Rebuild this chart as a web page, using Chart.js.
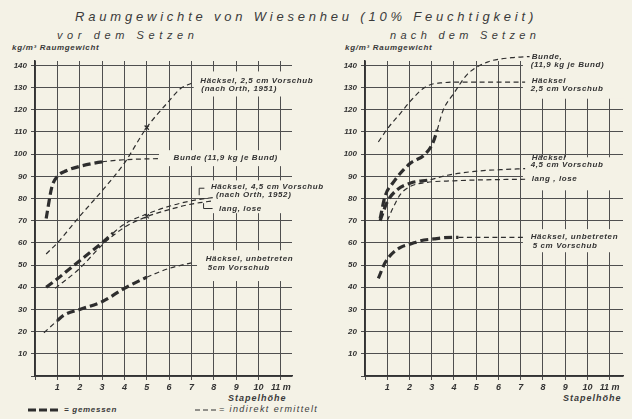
<!DOCTYPE html>
<html>
<head>
<meta charset="utf-8">
<script src="https://cdn.jsdelivr.net/npm/chart.js@4.4.0/dist/chart.umd.min.js"></script>
<style>
html, body { margin: 0; padding: 0; background: #f4f2e6; }
#page { position: relative; width: 632px; height: 419px; overflow: hidden;
        font-family: "Liberation Sans", sans-serif; font-style: italic; color: #3a3a3a; }
#page canvas { position: absolute; top: 0; }
.t { position: absolute; white-space: nowrap; line-height: 1; }
.small { font-size: 8px; font-weight: bold; letter-spacing: 0.7px; }
</style>
</head>
<body>
<div id="page">
  <div class="t" style="left:75px;top:10px;font-size:13px;letter-spacing:3.8px;">Raumgewichte von Wiesenheu (10% Feuchtigkeit)</div>
  <div class="t" style="left:57px;top:30px;font-size:11px;letter-spacing:4.6px;">vor dem Setzen</div>
  <div class="t" style="left:390px;top:30px;font-size:11px;letter-spacing:4.3px;">nach dem Setzen</div>
  <div class="t small" style="left:12px;top:44px;">kg/m³ Raumgewicht</div>
  <div class="t small" style="left:345px;top:44px;">kg/m³ Raumgewicht</div>
  <div class="t small" style="left:228px;top:394px;font-size:9px;letter-spacing:1px;">Stapelhöhe</div>
  <div class="t small" style="left:563px;top:394px;font-size:9px;letter-spacing:1px;">Stapelhöhe</div>
  <svg style="position:absolute;left:0;top:0" width="632" height="419">
    <line x1="28" y1="410" x2="60" y2="410" stroke="#2e2e2e" stroke-width="3" stroke-dasharray="8 3"/>
    <line x1="195" y1="410" x2="216" y2="410" stroke="#2e2e2e" stroke-width="1.2" stroke-dasharray="5 3"/>
  </svg>
  <div class="t small" style="left:64px;top:406px;">= gemessen</div>
  <div class="t small" style="left:219px;top:405px;font-size:9px;letter-spacing:1.4px;font-weight:normal;">= indirekt ermittelt</div>
  <canvas id="vor" width="324" height="419" style="left:0"></canvas>
  <canvas id="nach" width="316" height="419" style="left:316px"></canvas>
</div>
<script>
// vor dem Setzen
const vorHaecksel25X = [0.5, 1, 2, 3, 4, 5, 6, 6.5, 7];
const vorHaecksel25Y = [55, 60, 72, 83.5, 96, 112, 124, 129.5, 132];
const vorBundeX = [0.5, 0.75, 1, 1.4, 2, 3, 4, 5.5];
const vorBundeY = [71, 85, 90, 92.5, 94.5, 96.5, 97.5, 98];
const vorBundeGemessen = [0.5, 3];
const vorHaecksel45X = [0.5, 1, 2, 3, 3.5, 4, 5, 6, 7, 8];
const vorHaecksel45Y = [40, 43.8, 52, 60, 64.5, 68.5, 73, 76.5, 79, 80.5];
const vorHaecksel45Gemessen = [0.5, 3.5];
const vorLangX = [0.9, 2, 3, 4, 5, 6, 7, 8];
const vorLangY = [39.5, 48.5, 59, 67, 71.8, 75, 77.5, 79];
const vorUnbetretenX = [0.4, 1, 1.3, 2, 3, 4, 5, 6, 7];
const vorUnbetretenY = [19.5, 25, 27.5, 30, 33.5, 39.5, 44.5, 48.5, 51];
const vorUnbetretenGemessen = [1, 5];
const vorKreuzX = [5, 5];
const vorKreuzY = [112, 72];

// nach dem Setzen
const nachBundeX = [0.68, 0.9, 1.25, 2.05, 2.65, 3.05, 3.25, 3.5, 4, 4.6, 5.5, 6.6, 7.4];
const nachBundeY = [71, 81, 87, 96, 99.5, 105, 111, 119.5, 127.5, 136, 141.5, 143.5, 144];
const nachBundeGemessen = [0.68, 3.25];
const nachHaecksel25X = [0.6, 1.05, 1.6, 2.05, 2.6, 3, 3.5, 4.1, 7.2];
const nachHaecksel25Y = [105.5, 112, 118.5, 124, 129.5, 131.5, 132.2, 132.5, 132.5];
const nachHaecksel45X = [0.68, 1, 1.45, 2.05, 2.95, 3.7, 5.2, 6.1, 7.2];
const nachHaecksel45Y = [70, 78.5, 84, 87, 88.5, 90.5, 92.5, 93, 93.5];
const nachHaecksel45Gemessen = [0.68, 2.95];
const nachLangX = [1, 1.27, 1.6, 2.05, 2.8, 4, 5.2, 7.2];
const nachLangY = [70, 76, 82, 85.5, 87.3, 88, 88.4, 88.7];
const nachUnbetretenX = [0.6, 0.9, 1.15, 1.6, 2.05, 2.5, 3.1, 3.5, 4.2, 7.2];
const nachUnbetretenY = [44, 51, 54.5, 58, 59.5, 61, 61.8, 62.3, 62.5, 62.5];
const nachUnbetretenGemessen = [0.6, 4.2];

const paper = '#f4f2e6';
const ink = '#2e2e2e';
const grid = '#4f4f4f';

function gemessen(c, range) {
    return range && c.p0.parsed.x >= range[0] - 1e-6 && c.p1.parsed.x <= range[1] + 1e-6;
}

function kurve(xs, ys, range) {
    return {
        data: xs.map((v, i) => ({ x: v, y: ys[i] })),
        borderColor: ink,
        borderWidth: 1.2,
        borderDash: [5, 3.5],
        pointRadius: 0,
        cubicInterpolationMode: 'monotone',
        clip: false,
        segment: {
            borderWidth: c => gemessen(c, range) ? 3.2 : 1.2,
            borderDash: c => gemessen(c, range) ? [8, 4] : [5, 3.5]
        }
    };
}

const textPlugin = {
    id: 'kurvenText',
    beforeDatasetsDraw(chart, args, opts) {
        const sx = chart.scales.x, sy = chart.scales.y, ctx = chart.ctx;
        ctx.save();
        ctx.fillStyle = paper;
        (opts.items || []).forEach(it => {
            if (!it.box) return;
            const x1 = sx.getPixelForValue(it.box[0]);
            const x2 = chart.chartArea.right + 1;
            const y1 = sy.getPixelForValue(it.box[3]);
            const y2 = sy.getPixelForValue(it.box[2]);
            ctx.fillRect(x1, y1, x2 - x1, y2 - y1);
        });
        ctx.restore();
    },
    afterDatasetsDraw(chart, args, opts) {
        const sx = chart.scales.x, sy = chart.scales.y, ctx = chart.ctx;
        ctx.save();
        ctx.fillStyle = '#333';
        ctx.strokeStyle = ink;
        ctx.lineWidth = 1;
        ctx.font = 'italic bold 8px "Liberation Sans"';
        ctx.letterSpacing = '0.6px';
        ctx.textBaseline = 'middle';
        (opts.items || []).forEach(it => {
            const px = sx.getPixelForValue(it.x), py = sy.getPixelForValue(it.y);
            it.lines.forEach((l, i) => ctx.fillText(l[0], px + (l[1] || 0), py + i * (it.lh || 8.5)));
            (it.marks || []).forEach(m => {
                ctx.beginPath();
                m.forEach((p, j) => j ? ctx.lineTo(px + p[0], py + p[1]) : ctx.moveTo(px + p[0], py + p[1]));
                ctx.stroke();
            });
        });
        ctx.restore();
    }
};

function panel(id, datasets, xMax, padRight, yWidth, items) {
    return new Chart(document.getElementById(id), {
        type: 'line',
        data: { datasets: datasets },
        plugins: [textPlugin],
        options: {
            responsive: false,
            animation: false,
            layout: { padding: { left: 0, right: padRight, top: 61, bottom: 0 } },
            plugins: { legend: { display: false }, tooltip: { enabled: false }, kurvenText: { items: items } },
            scales: {
                x: {
                    type: 'linear', min: 0, max: xMax,
                    afterFit: s => { s.height = 43; },
                    grid: { color: grid, lineWidth: 1, tickLength: 4 },
                    border: { color: '#333', width: 1.6 },
                    ticks: {
                        stepSize: 1, includeBounds: false, maxRotation: 0, padding: 2, color: '#333',
                        font: { family: 'Liberation Sans', style: 'italic', weight: 'bold', size: 9 },
                        callback: v => v === 0 ? '' : (v === 11 ? '11 m' : v)
                    }
                },
                y: {
                    min: 0, max: 142,
                    afterFit: s => { s.width = yWidth; },
                    grid: { color: grid, lineWidth: 1, tickLength: 4 },
                    border: { color: '#333', width: 1.6 },
                    ticks: {
                        stepSize: 10, includeBounds: false, padding: 4, color: '#333',
                        font: { family: 'Liberation Sans', style: 'italic', weight: 'bold', size: 8 },
                        callback: v => v === 0 ? '' : v
                    }
                }
            }
        }
    });
}

const vorDatasets = [
    kurve(vorHaecksel25X, vorHaecksel25Y, null),
    kurve(vorBundeX, vorBundeY, vorBundeGemessen),
    kurve(vorHaecksel45X, vorHaecksel45Y, vorHaecksel45Gemessen),
    kurve(vorLangX, vorLangY, null),
    kurve(vorUnbetretenX, vorUnbetretenY, vorUnbetretenGemessen),
    {
        type: 'scatter',
        data: vorKreuzX.map((v, i) => ({ x: v, y: vorKreuzY[i] })),
        pointStyle: 'crossRot', pointRadius: 3, borderColor: ink, borderWidth: 1.3
    }
];

const vorItems = [
    { x: 7.4, y: 133.3, box: [7.1, 11.6, 126, 137.3],
      lines: [['Häcksel, 2,5 cm Vorschub'], ['(nach Orth, 1951)', 1]] },
    { x: 6.2, y: 98.2, box: [5.55, 11.6, 94.6, 101.8],
      lines: [['Bunde (11,9 kg je Bund)']] },
    { x: 7.87, y: 85.1, box: [7.75, 11.6, 73.4, 88.2],
      lines: [['Häcksel, 4,5 cm Vorschub'], ['(nach Orth, 1952)', 5], ['', 0], ['lang, lose', 8]],
      lh: 7.3,
      marks: [[[-11.7, 8], [-11.7, 1], [-6.5, 1]], [[-7.3, 16], [-7.3, 21.3], [1.7, 21.3]]] },
    { x: 7.64, y: 52.7, box: [7.25, 11.6, 42.8, 56.7],
      lines: [['Häcksel, unbetreten'], ['5cm Vorschub', 2]] }
];

const nachDatasets = [
    kurve(nachBundeX, nachBundeY, nachBundeGemessen),
    kurve(nachHaecksel25X, nachHaecksel25Y, null),
    kurve(nachHaecksel45X, nachHaecksel45Y, nachHaecksel45Gemessen),
    kurve(nachLangX, nachLangY, null),
    kurve(nachUnbetretenX, nachUnbetretenY, nachUnbetretenGemessen)
];

const nachItems = [
    { x: 7.45, y: 144.1, box: [7.1, 11.7, 125, 150],
      lines: [['Bunde,', 1], ['(11,9 kg je Bund)']] },
    { x: 7.45, y: 133.3, lines: [['Häcksel', 1], ['2,5 cm Vorschub']] },
    { x: 7.45, y: 98.2, box: [7.1, 11.7, 83.7, 98.6],
      lines: [['Häcksel', 1], ['4,5 cm Vorschub'], ['', 0], ['lang , lose', 1]], lh: 6.9 },
    { x: 7.45, y: 62.6, box: [7.1, 11.7, 55.8, 66.2],
      lines: [['Häcksel, unbetreten'], ['5 cm Vorschub', 2]] }
];

panel('vor', vorDatasets, 11.5, 32, 35, vorItems);
panel('nach', nachDatasets, 11.6, 9, 49, nachItems);
</script>
</body>
</html>
